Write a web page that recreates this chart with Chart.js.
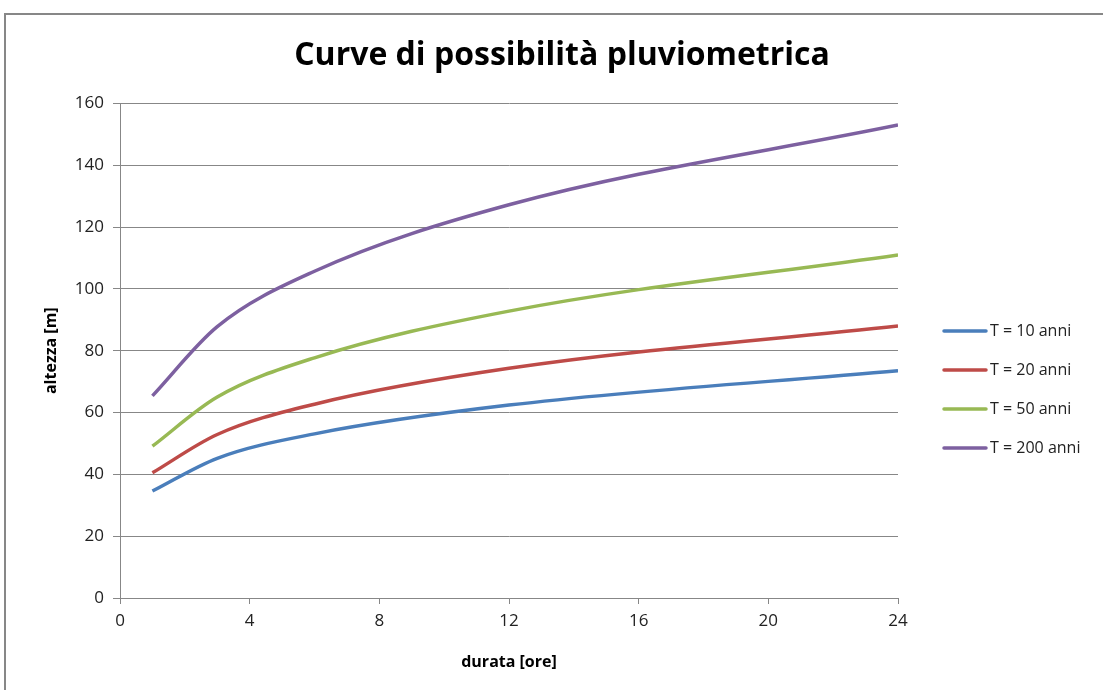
<!DOCTYPE html>
<html>
<head>
<meta charset="utf-8">
<script src="https://cdn.jsdelivr.net/npm/chart.js@4"></script>
<style>
  html, body { margin: 0; padding: 0; background: #fff; }
  #wrap { position: absolute; left: 0; top: 0; width: 1103px; height: 690px; }
  #frame { position: absolute; left: 4px; top: 13px; width: 1200px; height: 800px; border: 2px solid #878787; box-sizing: border-box; }
</style>
</head>
<body>
<div id="frame"></div>
<div id="wrap"><canvas id="rainChart"></canvas></div>
<script>
// durations [ore] and rainfall heights [m]
const durations = [1, 3, 6, 12, 24];
const labels = ['T = 10 anni', 'T = 20 anni', 'T = 50 anni', 'T = 200 anni'];
const t10 = [34.6, 45.2, 53.1, 62.4, 73.5];
const t20 = [40.5, 52.9, 62.7, 74.3, 88.0];
const t50 = [49.1, 65.0, 77.7, 92.8, 111.0];
const t200 = [65.4, 87.8, 105.7, 127.2, 153.0];
const colors = ['#4a7ebb', '#be4b48', '#98b954', '#7d60a0'];

const xTicks = [0, 4, 8, 12, 16, 20, 24];
const yTicks = [0, 20, 40, 60, 80, 100, 120, 140, 160];

const tickFont = { family: 'Open Sans, Noto Sans, sans-serif', size: 17 };
const boldFont = { family: 'Open Sans, Noto Sans, sans-serif', size: 16, weight: 'bold' };

function points(values) {
  return durations.map((d, i) => ({ x: d, y: values[i] }));
}

const allSeries = [t10, t20, t50, t200];

// legend drawn by hand so it sits where the original one does
const sideLegend = {
  id: 'sideLegend',
  afterDraw(chart) {
    const ctx = chart.ctx;
    ctx.save();
    ctx.font = '16px Open Sans, Noto Sans, sans-serif';
    ctx.textBaseline = 'middle';
    ctx.fillStyle = '#222';
    chart.data.datasets.forEach((ds, i) => {
      const y = 331 + i * 39;
      ctx.strokeStyle = ds.borderColor;
      ctx.lineWidth = 3.5;
      ctx.lineCap = 'round';
      ctx.beginPath();
      ctx.moveTo(944, y);
      ctx.lineTo(986, y);
      ctx.stroke();
      ctx.fillText(ds.label, 990, y);
    });
    ctx.restore();
  },
};

const rainConfig = {
  type: 'line',
  data: {
    datasets: allSeries.map((s, i) => ({
      label: labels[i],
      data: points(s),
      borderColor: colors[i],
      backgroundColor: colors[i],
      borderWidth: 3.5,
      pointRadius: 0,
      cubicInterpolationMode: 'monotone',
      fill: false,
    })),
  },
  options: {
    responsive: true,
    maintainAspectRatio: false,
    animation: false,
    layout: {
      padding: { left: 21, right: 0, top: 0, bottom: 0 },
    },
    plugins: {
      legend: { display: false },
      tooltip: { enabled: false },
      title: {
        display: true,
        text: 'Curve di possibilità pluviometrica',
        color: '#000',
        font: { family: 'Open Sans, Noto Sans, sans-serif', size: 32, weight: 'bold' },
        padding: { top: 37, bottom: 28 },
      },
    },
    scales: {
      x: {
        type: 'linear',
        min: 0,
        max: 24,
        afterBuildTicks: (scale) => { scale.ticks = xTicks.map((v) => ({ value: v })); },
        afterFit: (scale) => { scale.height = 92; },
        grid: { drawOnChartArea: false, drawTicks: true, tickLength: 6, color: '#878787' },
        border: { color: '#878787', width: 1 },
        ticks: { font: tickFont, color: '#222', padding: 7, maxRotation: 0 },
        title: { display: true, text: 'durata [ore]', font: boldFont, color: '#000', padding: { top: 10, bottom: 18 } },
      },
      y: {
        type: 'linear',
        min: 0,
        max: 160,
        afterBuildTicks: (scale) => { scale.ticks = yTicks.map((v) => ({ value: v })); },
        afterFit: (scale) => { scale.width = 99; },
        grid: { drawOnChartArea: true, drawTicks: true, tickLength: 7, color: '#878787' },
        border: { color: '#878787', width: 1 },
        ticks: { font: tickFont, color: '#222', padding: 9 },
        title: { display: true, text: 'altezza [m]', font: boldFont, color: '#000', padding: { top: 21, bottom: 0 } },
      },
      // empty right-hand axis that keeps room for the legend
      side: {
        type: 'linear',
        position: 'right',
        min: 0,
        max: 1,
        afterFit: (scale) => { scale.width = 205; },
        grid: { display: false },
        border: { display: false },
        ticks: { display: false },
      },
    },
  },
  plugins: [sideLegend],
};

const rainChart = new Chart(document.getElementById('rainChart'), rainConfig);
</script>
</body>
</html>
